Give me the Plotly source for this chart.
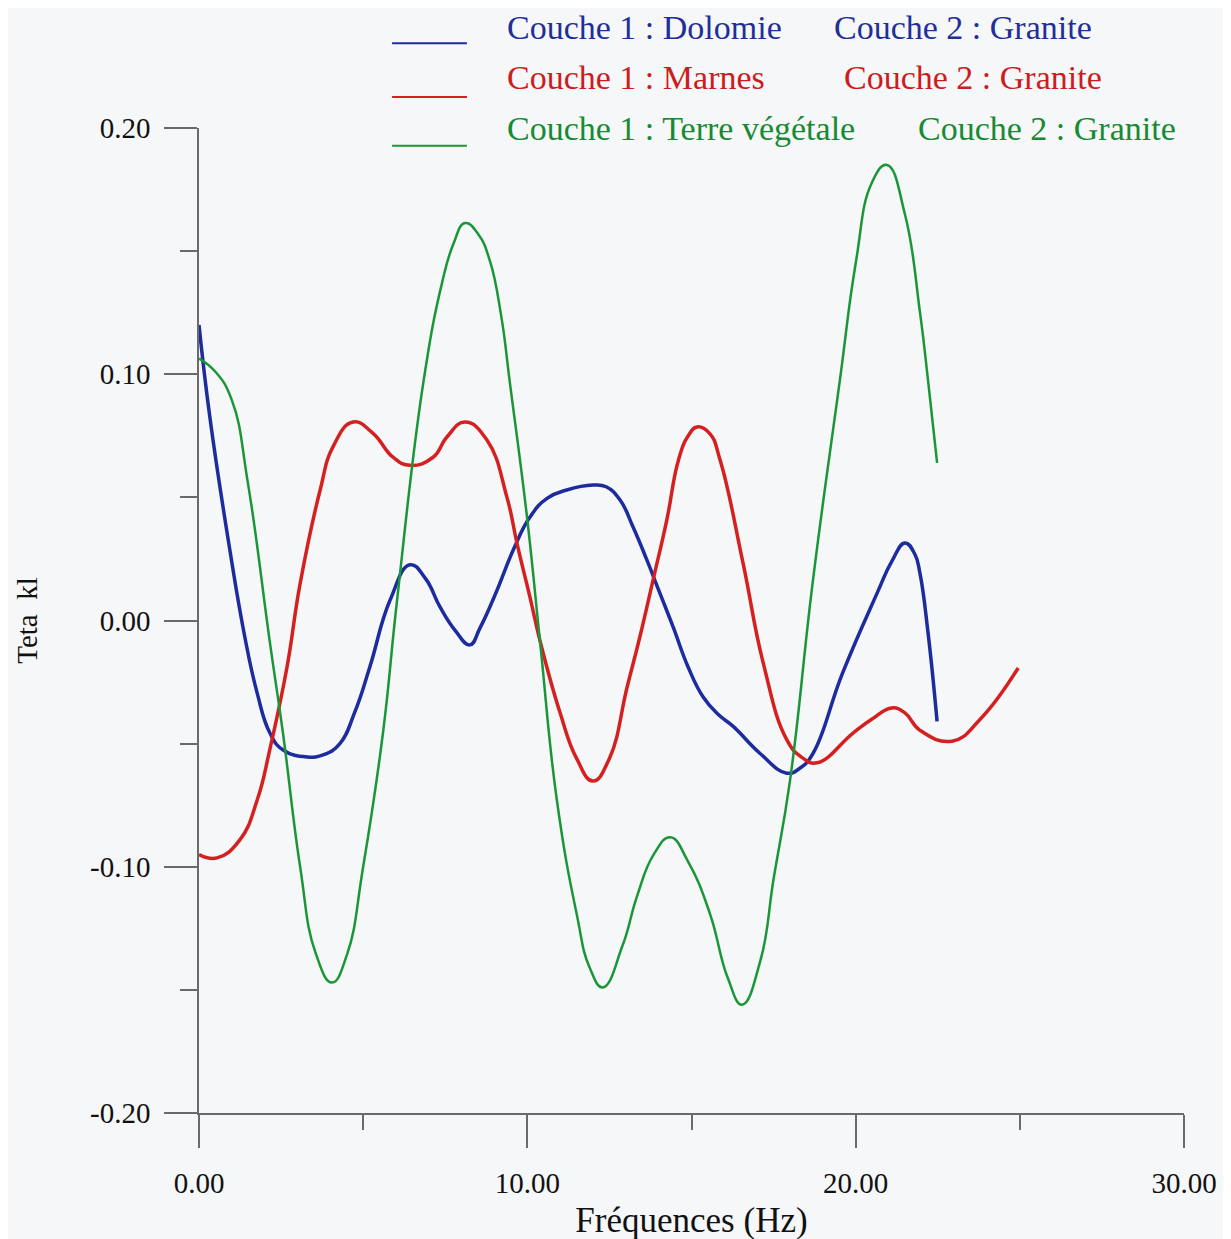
import plotly.graph_objects as go

# Frequencies (Hz) and Teta kl values
freq_dolomie = [0.0, 0.33, 0.94, 1.40, 1.77, 2.16, 2.56, 3.29, 3.8, 4.29, 4.75, 5.2, 5.82, 6.43, 6.9, 7.34, 7.8, 8.25,
                8.56, 9.08, 9.57, 10.08, 10.6, 11.2, 12.0, 12.4, 12.82, 13.22, 13.64, 14.04, 14.44, 14.9, 15.35,
                15.8, 16.27, 17.09, 17.9, 18.3, 18.7, 19.6, 20.65, 21.1, 21.5, 21.8, 21.96, 22.2, 22.48]
teta_dolomie = [0.120, 0.0826, 0.0286, -0.007, -0.0294, -0.0457, -0.0526, -0.0554, -0.0545, -0.050, -0.037, -0.019,
                0.0083, 0.0226, 0.017, 0.0055, -0.004, -0.0099, -0.003, 0.0124, 0.0286, 0.042, 0.0496, 0.053,
                0.055, 0.0543, 0.049, 0.038, 0.0246, 0.011, -0.0026, -0.019, -0.031, -0.038, -0.043, -0.054,
                -0.062, -0.060, -0.054, -0.0214, 0.011, 0.024, 0.0315, 0.027, 0.019, -0.0045, -0.041]

freq_marnes = [0.0, 0.55, 1.25, 1.77, 2.16, 2.68, 3.08, 3.69, 4.08, 4.69, 5.3, 5.91, 6.43, 7.13, 7.55, 8.1, 8.77,
               9.38, 9.69, 10.08, 10.4, 11.0, 11.5, 12.0, 12.5, 13.04, 13.43, 13.83, 14.25, 14.6, 14.9, 15.17,
               15.55, 15.87, 16.57, 17.18, 17.9, 18.35, 18.82, 19.92, 20.5, 21.1, 21.5, 21.96, 22.94, 23.8, 24.95]
teta_marnes = [-0.095, -0.0964, -0.089, -0.073, -0.0522, -0.019, 0.015, 0.053, 0.0705, 0.0806, 0.076, 0.0663, 0.063,
               0.0663, 0.0745, 0.0806, 0.0733, 0.050, 0.031, 0.0095, -0.009, -0.0376, -0.056, -0.0652, -0.056,
               -0.027, -0.0065, 0.0165, 0.041, 0.065, 0.075, 0.0786, 0.076, 0.0652, 0.0233, -0.017, -0.0484,
               -0.0555, -0.0578, -0.0457, -0.040, -0.0355, -0.0375, -0.0446, -0.049, -0.040, -0.0193]

freq_terre = [0.0, 0.5, 1.0, 1.49, 2.16, 2.56, 3.08, 3.55, 4.05, 4.5, 5.0, 5.6, 6.03, 6.83, 7.4, 7.75, 8.1, 8.5, 8.86,
              9.2, 9.47, 9.99, 10.39, 10.9, 11.5, 11.9, 12.3, 12.9, 13.34, 13.85, 14.35, 14.9, 15.56, 16.1, 16.54,
              17.1, 17.5, 18.0, 18.7, 19.52, 20.0, 20.5, 20.95, 21.5, 21.96, 22.2, 22.48]
teta_terre = [0.1064, 0.101, 0.0895, 0.0558, -0.009, -0.046, -0.100, -0.135, -0.147, -0.136, -0.100, -0.046, 0.008,
              0.0964, 0.137, 0.153, 0.1614, 0.157, 0.146, 0.124, 0.0964, 0.042, -0.009, -0.073, -0.119, -0.141,
              -0.149, -0.132, -0.112, -0.095, -0.088, -0.098, -0.119, -0.145, -0.156, -0.138, -0.105, -0.065,
              0.0164, 0.0977, 0.145, 0.178, 0.185, 0.165, 0.125, 0.098, 0.064]

legend_layer1 = ["Couche 1 : Dolomie", "Couche 1 : Marnes", "Couche 1 : Terre végétale"]
legend_layer2 = ["Couche 2 : Granite", "Couche 2 : Granite", "Couche 2 : Granite"]
line_colors = ["#1c2c9e", "#d42020", "#1a9638"]
text_colors = ["#1f2f9a", "#cc1c1c", "#178a33"]
line_widths = [3.5, 3.5, 2.5]

x_ticks = [0, 10, 20, 30]
x_ticklabels = ["0.00", "10.00", "20.00", "30.00"]
y_ticks = [-0.2, -0.1, 0.0, 0.1, 0.2]
y_ticklabels = ["-0.20", "-0.10", "0.00", "0.10", "0.20"]

fig = go.Figure()
series = [(freq_dolomie, teta_dolomie), (freq_marnes, teta_marnes), (freq_terre, teta_terre)]
for i, (fx, fy) in enumerate(series):
    fig.add_trace(go.Scatter(
        x=fx, y=fy, mode="lines",
        line=dict(color=line_colors[i], width=line_widths[i], shape="spline", smoothing=1.3),
        name=f"{legend_layer1[i]}   {legend_layer2[i]}",
        showlegend=False,
    ))

# Legend drawn as line samples + text (positions in paper coordinates)
leg_line_x = (0.196, 0.272)
leg_line_y = [1.086, 1.0315, 0.982]
leg_text_y = [1.1025, 1.0508, 1.0]
leg_text1_x = 0.3107
leg_text2_x = [0.6426, 0.6528, 0.7279]
font_family = "Liberation Serif, Times New Roman, serif"
for i in range(3):
    fig.add_shape(type="line", xref="paper", yref="paper",
                  x0=leg_line_x[0], x1=leg_line_x[1], y0=leg_line_y[i], y1=leg_line_y[i],
                  line=dict(color=line_colors[i], width=2))
    fig.add_annotation(xref="paper", yref="paper", x=leg_text1_x, y=leg_text_y[i],
                       xanchor="left", yanchor="middle", showarrow=False, text=legend_layer1[i],
                       font=dict(family=font_family, size=34, color=text_colors[i]))
    fig.add_annotation(xref="paper", yref="paper", x=leg_text2_x[i], y=leg_text_y[i],
                       xanchor="left", yanchor="middle", showarrow=False, text=legend_layer2[i],
                       font=dict(family=font_family, size=34, color=text_colors[i]))

bg = "#f6f7f8"
axis_col = "#6a6a6a"

fig.update_layout(
    width=1231, height=1239,
    margin=dict(l=191, r=55, t=120, b=134, autoexpand=False),
    paper_bgcolor=bg, plot_bgcolor=bg,
    font=dict(family=font_family, size=29, color="#111111"),
    showlegend=False,
    xaxis=dict(
        range=[0, 30], showgrid=False, zeroline=False,
        showline=True, linecolor=axis_col, linewidth=1.5,
        ticks="outside", ticklen=33, tickwidth=1.5, tickcolor=axis_col,
        tickvals=x_ticks, ticktext=x_ticklabels, ticklabelstandoff=10,
        tickfont=dict(size=29),
        minor=dict(dtick=5, tick0=0, ticks="outside", ticklen=15, tickwidth=1.5, tickcolor=axis_col, showgrid=False),
        title=dict(text="Fréquences (Hz)", font=dict(size=35), standoff=10),
    ),
    yaxis=dict(
        range=[-0.2, 0.2], showgrid=False, zeroline=False,
        showline=True, linecolor=axis_col, linewidth=1.5,
        ticks="outside", ticklen=33, tickwidth=1.5, tickcolor=axis_col,
        tickvals=y_ticks, ticktext=y_ticklabels, ticklabelstandoff=8,
        tickfont=dict(size=29),
        minor=dict(dtick=0.05, tick0=0, ticks="outside", ticklen=17, tickwidth=1.5, tickcolor=axis_col, showgrid=False),
        title=dict(text="Teta&nbsp;&nbsp;kl", font=dict(size=29), standoff=44),
    ),
)

fig.write_html("out.html")
